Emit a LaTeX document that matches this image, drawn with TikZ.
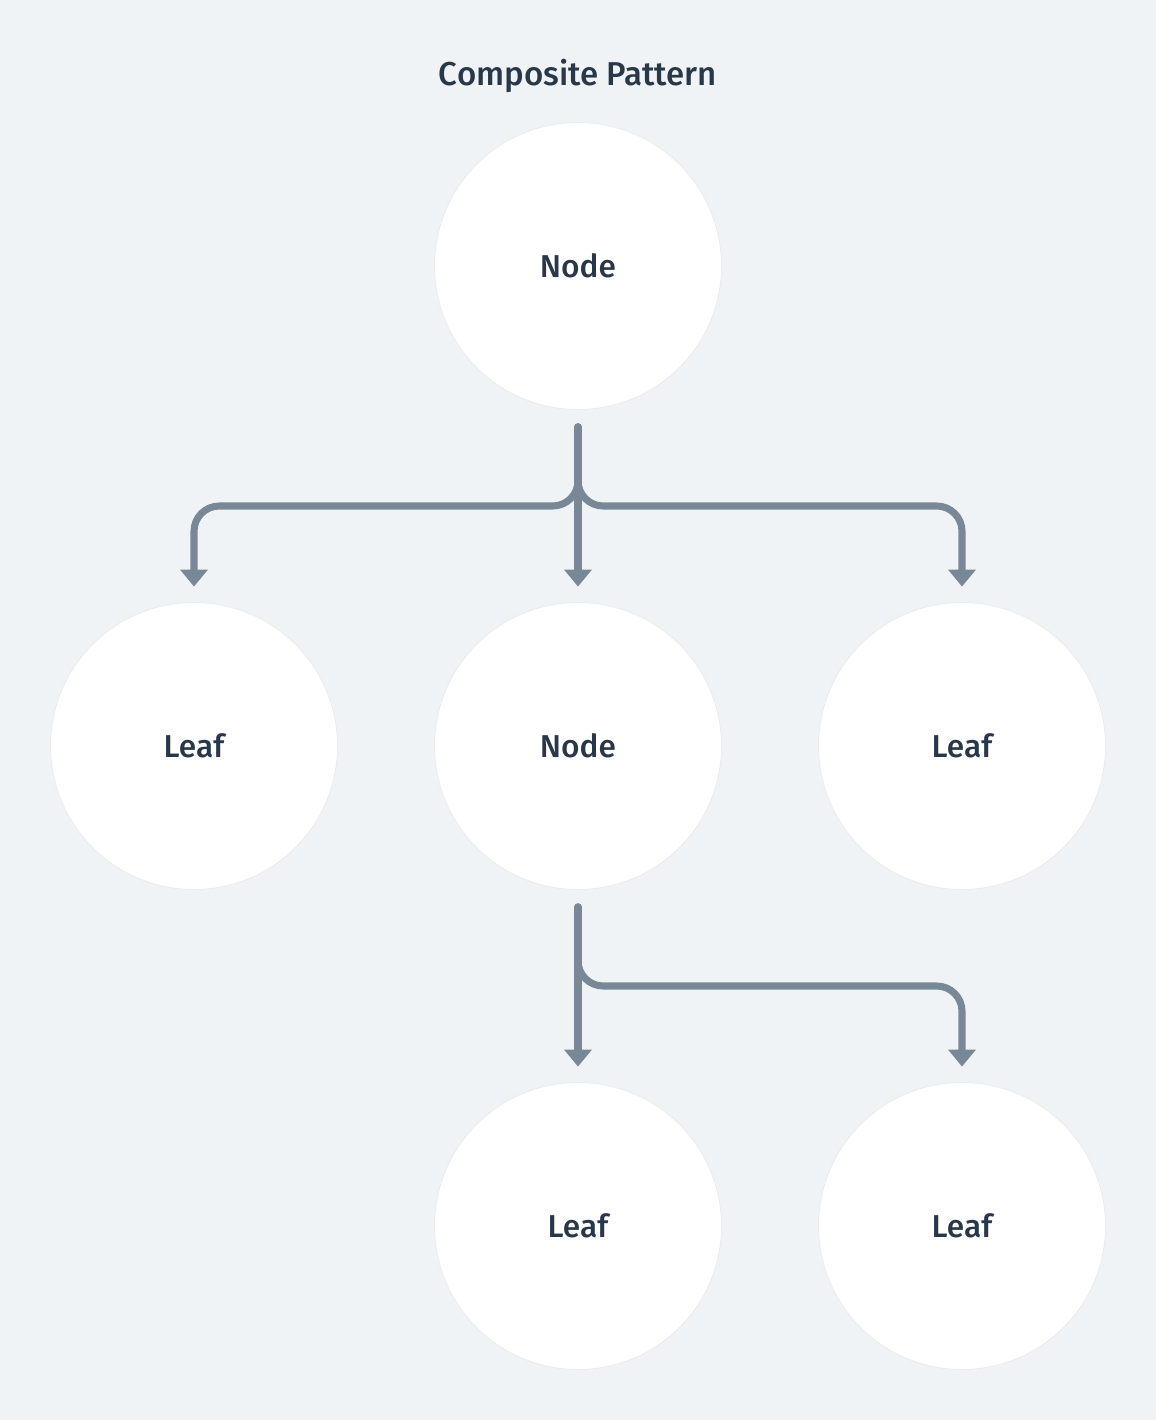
\documentclass[tikz,border=0pt]{standalone}
\usepackage{fontspec}
\setmainfont{Fira Sans}[UprightFont={* Medium}]
\usetikzlibrary{arrows.meta}
\definecolor{bg}{HTML}{F0F3F6}
\definecolor{ink}{HTML}{283848}
\definecolor{wire}{HTML}{788897}

\begin{document}
\begin{tikzpicture}[x=0.025cm, y=-0.025cm,
    ball/.style={circle, fill=white, draw=black!8, line width=0.6pt, minimum size=7.175cm,
      text=ink, font=\fontsize{22.5}{26}\selectfont},
    link/.style={draw=wire, line width=5pt, line cap=round, rounded corners=18pt,
      -{Triangle[width=19pt, length=12pt, line cap=round]}, shorten >=11pt}
  ]
    \fill[bg] (0,0) rectangle (1156,1420);
    \useasboundingbox (0,0) rectangle (1156,1420);
    \node[text=ink, font=\fontsize{23.5}{27}\selectfont] (title) at (578,76) {Composite Pattern};

    \node[ball] (root) at (578,266) {Node};
    \node[ball] (leafL) at (194,746) {Leaf};
    \node[ball] (mid) at (578,746) {Node};
    \node[ball] (leafR) at (962,746) {Leaf};
    \node[ball] (leafB1) at (578,1226) {Leaf};
    \node[ball] (leafB2) at (962,1226) {Leaf};

    % fan out from the top node
    \coordinate (s1) at ([yshift=-12pt]root.south);
    \coordinate (bar1) at (578,506);
    \draw[link] (s1) -- (mid.north);
    \draw[link] (s1) -- (bar1) -| (leafL.north);
    \draw[link] (s1) -- (bar1) -| (leafR.north);

    % fan out from the middle node
    \coordinate (s2) at ([yshift=-12pt]mid.south);
    \coordinate (bar2) at (578,986);
    \draw[link] (s2) -- (leafB1.north);
    \draw[link] (s2) -- (bar2) -| (leafB2.north);
\end{tikzpicture}
\end{document}
